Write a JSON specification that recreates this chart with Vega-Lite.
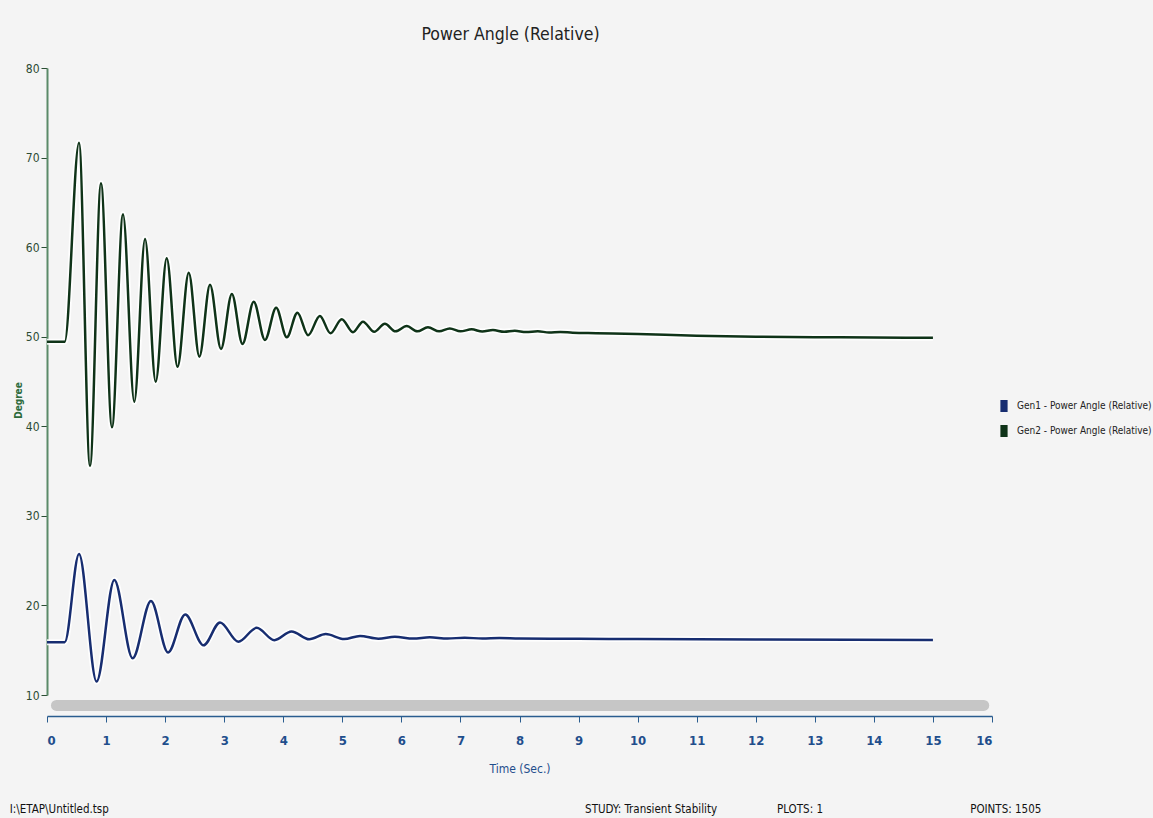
{
  "$schema": "https://vega.github.io/schema/vega-lite/v6.json",
  "autosize": {"type": "none"},
  "width": 945,
  "height": 627,
  "padding": {"left": 47, "top": 68, "right": 161, "bottom": 123},
  "background": "#f4f4f4",
  "config": {
    "font": "'Liberation Sans Narrow', 'DejaVu Sans Condensed', sans-serif",
    "view": {"stroke": null, "fill": "#f4f4f4"}
  },
  "title": {
    "text": "Power Angle (Relative)",
    "fontSize": 17.5,
    "fontWeight": "normal",
    "color": "#222222",
    "anchor": "middle",
    "offset": 19,
    "dx": -9
  },
  "datasets": {
    "angles": [
      {"series": "Gen1 - Power Angle (Relative)", "t": 0, "deg": 15.9},
      {"series": "Gen1 - Power Angle (Relative)", "t": 0.3, "deg": 15.9},
      {"series": "Gen1 - Power Angle (Relative)", "t": 0.542, "deg": 25.75},
      {"series": "Gen1 - Power Angle (Relative)", "t": 0.84, "deg": 11.5},
      {"series": "Gen1 - Power Angle (Relative)", "t": 1.14, "deg": 22.85},
      {"series": "Gen1 - Power Angle (Relative)", "t": 1.45, "deg": 14.1},
      {"series": "Gen1 - Power Angle (Relative)", "t": 1.76, "deg": 20.5},
      {"series": "Gen1 - Power Angle (Relative)", "t": 2.05, "deg": 14.75},
      {"series": "Gen1 - Power Angle (Relative)", "t": 2.34, "deg": 19.0},
      {"series": "Gen1 - Power Angle (Relative)", "t": 2.65, "deg": 15.55},
      {"series": "Gen1 - Power Angle (Relative)", "t": 2.93, "deg": 18.1},
      {"series": "Gen1 - Power Angle (Relative)", "t": 3.24, "deg": 15.95},
      {"series": "Gen1 - Power Angle (Relative)", "t": 3.55, "deg": 17.5},
      {"series": "Gen1 - Power Angle (Relative)", "t": 3.85, "deg": 16.12},
      {"series": "Gen1 - Power Angle (Relative)", "t": 4.14, "deg": 17.1},
      {"series": "Gen1 - Power Angle (Relative)", "t": 4.44, "deg": 16.22},
      {"series": "Gen1 - Power Angle (Relative)", "t": 4.72, "deg": 16.8},
      {"series": "Gen1 - Power Angle (Relative)", "t": 5.03, "deg": 16.25},
      {"series": "Gen1 - Power Angle (Relative)", "t": 5.3, "deg": 16.6},
      {"series": "Gen1 - Power Angle (Relative)", "t": 5.61, "deg": 16.28},
      {"series": "Gen1 - Power Angle (Relative)", "t": 5.89, "deg": 16.5},
      {"series": "Gen1 - Power Angle (Relative)", "t": 6.2, "deg": 16.3},
      {"series": "Gen1 - Power Angle (Relative)", "t": 6.48, "deg": 16.45},
      {"series": "Gen1 - Power Angle (Relative)", "t": 6.78, "deg": 16.3},
      {"series": "Gen1 - Power Angle (Relative)", "t": 7.07, "deg": 16.4},
      {"series": "Gen1 - Power Angle (Relative)", "t": 7.37, "deg": 16.3},
      {"series": "Gen1 - Power Angle (Relative)", "t": 7.66, "deg": 16.36},
      {"series": "Gen1 - Power Angle (Relative)", "t": 8.0, "deg": 16.3},
      {"series": "Gen1 - Power Angle (Relative)", "t": 9.0, "deg": 16.28},
      {"series": "Gen1 - Power Angle (Relative)", "t": 10.0, "deg": 16.25},
      {"series": "Gen1 - Power Angle (Relative)", "t": 12.0, "deg": 16.2},
      {"series": "Gen1 - Power Angle (Relative)", "t": 15.0, "deg": 16.15},
      {"series": "Gen2 - Power Angle (Relative)", "t": 0, "deg": 49.45},
      {"series": "Gen2 - Power Angle (Relative)", "t": 0.3, "deg": 49.45},
      {"series": "Gen2 - Power Angle (Relative)", "t": 0.542, "deg": 71.66},
      {"series": "Gen2 - Power Angle (Relative)", "t": 0.728, "deg": 35.56},
      {"series": "Gen2 - Power Angle (Relative)", "t": 0.914, "deg": 67.13},
      {"series": "Gen2 - Power Angle (Relative)", "t": 1.1, "deg": 39.89},
      {"series": "Gen2 - Power Angle (Relative)", "t": 1.287, "deg": 63.67},
      {"series": "Gen2 - Power Angle (Relative)", "t": 1.478, "deg": 42.74},
      {"series": "Gen2 - Power Angle (Relative)", "t": 1.66, "deg": 60.91},
      {"series": "Gen2 - Power Angle (Relative)", "t": 1.84, "deg": 44.98},
      {"series": "Gen2 - Power Angle (Relative)", "t": 2.027, "deg": 58.76},
      {"series": "Gen2 - Power Angle (Relative)", "t": 2.21, "deg": 46.65},
      {"series": "Gen2 - Power Angle (Relative)", "t": 2.4, "deg": 57.15},
      {"series": "Gen2 - Power Angle (Relative)", "t": 2.58, "deg": 47.77},
      {"series": "Gen2 - Power Angle (Relative)", "t": 2.76, "deg": 55.81},
      {"series": "Gen2 - Power Angle (Relative)", "t": 2.946, "deg": 48.63},
      {"series": "Gen2 - Power Angle (Relative)", "t": 3.13, "deg": 54.77},
      {"series": "Gen2 - Power Angle (Relative)", "t": 3.31, "deg": 49.19},
      {"series": "Gen2 - Power Angle (Relative)", "t": 3.5, "deg": 53.91},
      {"series": "Gen2 - Power Angle (Relative)", "t": 3.69, "deg": 49.63},
      {"series": "Gen2 - Power Angle (Relative)", "t": 3.88, "deg": 53.24},
      {"series": "Gen2 - Power Angle (Relative)", "t": 4.06, "deg": 49.93},
      {"series": "Gen2 - Power Angle (Relative)", "t": 4.24, "deg": 52.68},
      {"series": "Gen2 - Power Angle (Relative)", "t": 4.42, "deg": 50.16},
      {"series": "Gen2 - Power Angle (Relative)", "t": 4.62, "deg": 52.32},
      {"series": "Gen2 - Power Angle (Relative)", "t": 4.8, "deg": 50.38},
      {"series": "Gen2 - Power Angle (Relative)", "t": 4.99, "deg": 51.95},
      {"series": "Gen2 - Power Angle (Relative)", "t": 5.18, "deg": 50.5},
      {"series": "Gen2 - Power Angle (Relative)", "t": 5.35, "deg": 51.68},
      {"series": "Gen2 - Power Angle (Relative)", "t": 5.54, "deg": 50.55},
      {"series": "Gen2 - Power Angle (Relative)", "t": 5.72, "deg": 51.45},
      {"series": "Gen2 - Power Angle (Relative)", "t": 5.9, "deg": 50.6},
      {"series": "Gen2 - Power Angle (Relative)", "t": 6.09, "deg": 51.2},
      {"series": "Gen2 - Power Angle (Relative)", "t": 6.27, "deg": 50.6},
      {"series": "Gen2 - Power Angle (Relative)", "t": 6.45, "deg": 51.05},
      {"series": "Gen2 - Power Angle (Relative)", "t": 6.64, "deg": 50.6},
      {"series": "Gen2 - Power Angle (Relative)", "t": 6.82, "deg": 50.92},
      {"series": "Gen2 - Power Angle (Relative)", "t": 7.0, "deg": 50.6},
      {"series": "Gen2 - Power Angle (Relative)", "t": 7.19, "deg": 50.82},
      {"series": "Gen2 - Power Angle (Relative)", "t": 7.37, "deg": 50.58},
      {"series": "Gen2 - Power Angle (Relative)", "t": 7.55, "deg": 50.74},
      {"series": "Gen2 - Power Angle (Relative)", "t": 7.74, "deg": 50.55},
      {"series": "Gen2 - Power Angle (Relative)", "t": 7.92, "deg": 50.66},
      {"series": "Gen2 - Power Angle (Relative)", "t": 8.11, "deg": 50.52},
      {"series": "Gen2 - Power Angle (Relative)", "t": 8.31, "deg": 50.6},
      {"series": "Gen2 - Power Angle (Relative)", "t": 8.5, "deg": 50.48},
      {"series": "Gen2 - Power Angle (Relative)", "t": 8.69, "deg": 50.54},
      {"series": "Gen2 - Power Angle (Relative)", "t": 8.9, "deg": 50.45},
      {"series": "Gen2 - Power Angle (Relative)", "t": 9.3, "deg": 50.4},
      {"series": "Gen2 - Power Angle (Relative)", "t": 10.0, "deg": 50.3},
      {"series": "Gen2 - Power Angle (Relative)", "t": 11.0, "deg": 50.1},
      {"series": "Gen2 - Power Angle (Relative)", "t": 12.0, "deg": 50.0},
      {"series": "Gen2 - Power Angle (Relative)", "t": 13.0, "deg": 49.95},
      {"series": "Gen2 - Power Angle (Relative)", "t": 14.0, "deg": 49.9},
      {"series": "Gen2 - Power Angle (Relative)", "t": 15.0, "deg": 49.88}
    ]
  },
  "layer": [
    {
      "data": {"name": "angles"},
      "mark": {"type": "line", "interpolate": "monotone", "color": "#ffffff", "strokeWidth": 6, "opacity": 0.85},
      "encoding": {
        "x": {"field": "t", "type": "quantitative", "title": "Time (Sec.)", "scale": {"domain": [0, 16], "nice": false},
          "axis": {"values": [0,1,2,3,4,5,6,7,8,9,10,11,12,13,14,15,16], "format": "d", "grid": false, "offset": 21, "domainColor": "#2a5d8f", "domainWidth": 1.5, "tickColor": "#2a5d8f", "tickSize": 6, "labelColor": "#1f4e8c", "labelFontSize": 13, "labelFontWeight": "bold", "labelPadding": 12, "titleColor": "#1f4e8c", "titleFontSize": 12, "titleFontWeight": "normal", "titlePadding": 16}},
        "y": {"field": "deg", "type": "quantitative", "title": "Degree", "scale": {"domain": [10, 80], "nice": false},
          "axis": {"values": [10,20,30,40,50,60,70,80], "format": "d", "grid": false, "domainColor": "#5a8a68", "domainWidth": 2, "tickColor": "#2b4d33", "tickSize": 6, "labelColor": "#2c4a33", "labelFontSize": 12, "labelPadding": 2, "titleColor": "#2e6b3c", "titleFontSize": 10, "titleFontWeight": "bold", "titleX": -24, "titleY": 332}},
        "detail": {"field": "series"}
      }
    },
    {
      "data": {"name": "angles"},
      "mark": {"type": "line", "interpolate": "monotone", "strokeWidth": 2.5},
      "encoding": {
        "x": {"field": "t", "type": "quantitative", "title": "Time (Sec.)", "scale": {"domain": [0, 16], "nice": false}},
        "y": {"field": "deg", "type": "quantitative", "title": "Degree", "scale": {"domain": [10, 80], "nice": false}},
        "color": {"field": "series", "type": "nominal",
          "scale": {"domain": ["Gen1 - Power Angle (Relative)", "Gen2 - Power Angle (Relative)"], "range": ["#172d70", "#0f3318"]},
          "legend": {"title": null, "orient": "none", "legendX": 951, "legendY": 332, "symbolType": "M-0.6,-1H0.6V1H-0.6Z", "symbolSize": 144, "symbolStrokeWidth": 0, "symbolOpacity": 1, "labelFontSize": 10, "labelColor": "#222222", "labelLimit": 300, "rowPadding": 13, "labelOffset": 7,
            "encode": {"symbols": {"update": {"fill": {"scale": "color", "field": "value"}, "stroke": {"value": "transparent"}}}}}}
      }
    },
    {
      "data": {"values": [{}]},
      "mark": {"type": "rule", "color": "#c6c6c6", "strokeWidth": 11, "strokeCap": "round"},
      "encoding": {
        "x": {"datum": 0.16, "type": "quantitative", "title": "Time (Sec.)", "scale": {"domain": [0, 16], "nice": false}},
        "x2": {"datum": 15.86},
        "y": {"datum": 8.83, "type": "quantitative", "title": "Degree", "scale": {"domain": [10, 80], "nice": false}}
      }
    },
    {
      "data": {"values": [{}]},
      "mark": {"type": "text", "align": "left", "baseline": "middle", "fontSize": 11.5, "color": "#111111"},
      "encoding": {
        "x": {"datum": -0.63, "type": "quantitative", "title": "Time (Sec.)", "scale": {"domain": [0, 16], "nice": false}},
        "y": {"datum": -2.8, "type": "quantitative", "title": "Degree", "scale": {"domain": [10, 80], "nice": false}},
        "text": {"value": "I:\\ETAP\\Untitled.tsp"}
      }
    },
    {
      "data": {"values": [{}]},
      "mark": {"type": "text", "align": "left", "baseline": "middle", "fontSize": 11.5, "color": "#111111"},
      "encoding": {
        "x": {"datum": 9.11, "type": "quantitative", "title": "Time (Sec.)", "scale": {"domain": [0, 16], "nice": false}},
        "y": {"datum": -2.8, "type": "quantitative", "title": "Degree", "scale": {"domain": [10, 80], "nice": false}},
        "text": {"value": "STUDY: Transient Stability"}
      }
    },
    {
      "data": {"values": [{}]},
      "mark": {"type": "text", "align": "left", "baseline": "middle", "fontSize": 11.5, "color": "#111111"},
      "encoding": {
        "x": {"datum": 12.36, "type": "quantitative", "title": "Time (Sec.)", "scale": {"domain": [0, 16], "nice": false}},
        "y": {"datum": -2.8, "type": "quantitative", "title": "Degree", "scale": {"domain": [10, 80], "nice": false}},
        "text": {"value": "PLOTS: 1"}
      }
    },
    {
      "data": {"values": [{}]},
      "mark": {"type": "text", "align": "left", "baseline": "middle", "fontSize": 11.5, "color": "#111111"},
      "encoding": {
        "x": {"datum": 15.63, "type": "quantitative", "title": "Time (Sec.)", "scale": {"domain": [0, 16], "nice": false}},
        "y": {"datum": -2.8, "type": "quantitative", "title": "Degree", "scale": {"domain": [10, 80], "nice": false}},
        "text": {"value": "POINTS: 1505"}
      }
    }
  ]
}
